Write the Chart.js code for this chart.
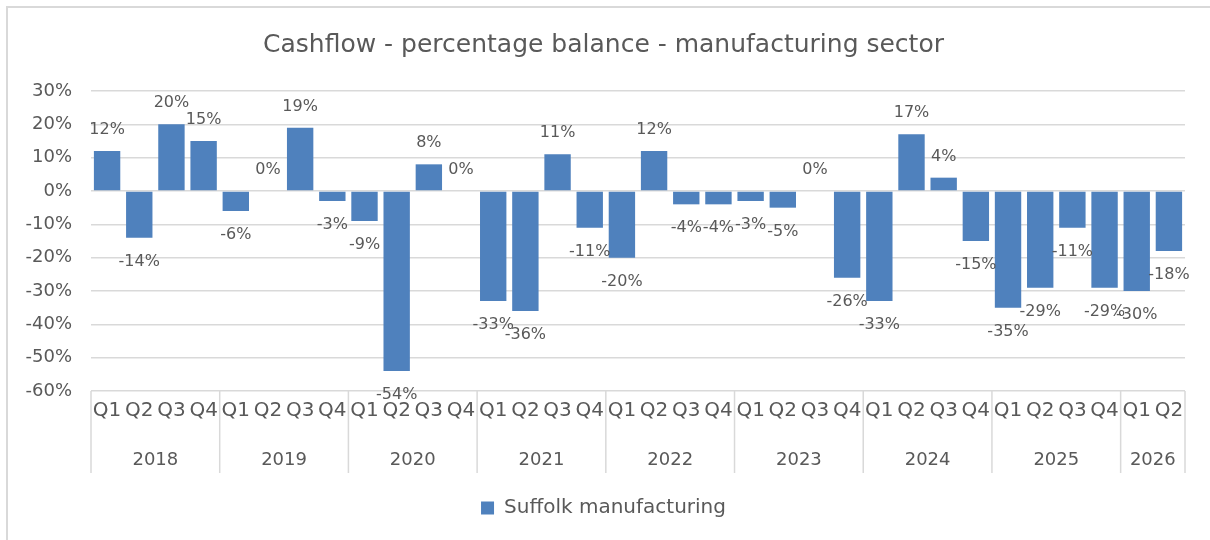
<!DOCTYPE html>
<html>
<head>
<meta charset="utf-8">
<script src="https://cdn.jsdelivr.net/npm/chart.js@4"></script>
<style>
  html, body { margin: 0; padding: 0; background: #fff; }
  #wrap { position: relative; width: 1210px; height: 540px; overflow: hidden; }
  #frame { position: absolute; left: 6px; top: 6px; width: 1300px; height: 600px;
           border-left: 2px solid #d9d9d9; border-top: 2px solid #d9d9d9; box-sizing: border-box; }
  #chart { position: absolute; left: 0; top: 0; }
</style>
</head>
<body>
<div id="wrap">
  <div id="frame"></div>
  <canvas id="chart" width="1210" height="540"></canvas>
</div>
<script>
// quarter tick labels, 2018 Q1 .. 2026 Q2
const quarters = [
    'Q1', 'Q2', 'Q3', 'Q4', 'Q1', 'Q2', 'Q3', 'Q4', 'Q1', 'Q2', 'Q3', 'Q4',
    'Q1', 'Q2', 'Q3', 'Q4', 'Q1', 'Q2', 'Q3', 'Q4', 'Q1', 'Q2', 'Q3', 'Q4',
    'Q1', 'Q2', 'Q3', 'Q4', 'Q1', 'Q2', 'Q3', 'Q4', 'Q1', 'Q2'
];
const years = ['2018', '2019', '2020', '2021', '2022', '2023', '2024', '2025', '2026'];
const quartersPerYear = [4, 4, 4, 4, 4, 4, 4, 4, 2];

// percentage balance
const suffolkManufacturing = [
    12, -14, 20, 15,
    -6, 0, 19, -3,
    -9, -54, 8, 0,
    -33, -36, 11, -11,
    -20, 12, -4, -4,
    -3, -5, 0, -26,
    -33, 17, 4, -15,
    -35, -29, -11, -29,
    -30, -18
];

const FONT = 'DejaVu Sans';
const TEXT = '#595959';
const GRID = '#d9d9d9';

const barLabels = {
    id: 'barLabels',
    afterDatasetsDraw(chart) {
        const ctx = chart.ctx;
        const meta = chart.getDatasetMeta(0);
        const values = chart.data.datasets[0].data;
        ctx.save();
        ctx.font = '16px "' + FONT + '"';
        ctx.fillStyle = TEXT;
        ctx.textAlign = 'center';
        ctx.textBaseline = 'middle';
        meta.data.forEach((bar, i) => {
            const v = values[i];
            const y = v >= 0 ? bar.y - 21 : bar.y + 24;
            ctx.fillText(v + '%', bar.x, y);
        });
        ctx.restore();
    }
};

const yearRow = {
    id: 'yearRow',
    afterDraw(chart) {
        const ctx = chart.ctx;
        const xs = chart.scales.x;
        const area = chart.chartArea;
        const step = area.width / quarters.length;
        ctx.save();
        ctx.strokeStyle = GRID;
        ctx.lineWidth = 1.5;
        ctx.fillStyle = TEXT;
        ctx.font = '18px "' + FONT + '"';
        ctx.textAlign = 'center';
        ctx.textBaseline = 'middle';
        let start = 0;
        const edge = i => xs.getPixelForValue(i) - step / 2;
        quartersPerYear.forEach((n, k) => {
            const x0 = edge(start);
            const x1 = edge(start + n);
            ctx.beginPath();
            ctx.moveTo(x0, area.bottom);
            ctx.lineTo(x0, area.bottom + 82);
            ctx.stroke();
            ctx.fillText(years[k], (x0 + x1) / 2, area.bottom + 69);
            start += n;
        });
        const xe = edge(start);
        ctx.beginPath();
        ctx.moveTo(xe, area.bottom);
        ctx.lineTo(xe, area.bottom + 82);
        ctx.stroke();
        ctx.restore();
    }
};

new Chart(document.getElementById('chart'), {
    type: 'bar',
    data: {
        labels: quarters,
        datasets: [{
            label: 'Suffolk manufacturing',
            data: suffolkManufacturing,
            backgroundColor: '#4f81bd',
            borderWidth: 0,
            barPercentage: 0.82,
            categoryPercentage: 1
        }]
    },
    options: {
        responsive: false,
        animation: false,
        layout: { padding: { left: 22, right: 25, top: 0, bottom: 12 } },
        plugins: {
            title: {
                display: true,
                text: 'Cashflow - percentage balance - manufacturing sector',
                color: TEXT,
                font: { family: FONT, size: 25, weight: 'normal' },
                padding: { top: 30, bottom: 31 }
            },
            legend: {
                position: 'bottom',
                labels: {
                    color: TEXT,
                    font: { family: FONT, size: 20 },
                    boxWidth: 13,
                    boxHeight: 13
                }
            },
            tooltip: { enabled: false }
        },
        scales: {
            x: {
                grid: { display: false },
                border: { display: false },
                ticks: {
                    color: TEXT,
                    font: { family: FONT, size: 20 },
                    autoSkip: false,
                    maxRotation: 0,
                    padding: 0
                },
                afterFit: s => { s.height = 97; }
            },
            y: {
                min: -60,
                max: 30,
                grid: { color: GRID, lineWidth: 1.5, drawTicks: false },
                border: { display: false },
                ticks: {
                    stepSize: 10,
                    color: TEXT,
                    font: { family: FONT, size: 18 },
                    padding: 19,
                    callback: v => v + '%'
                },
                afterFit: s => { s.width = 69; }
            }
        }
    },
    plugins: [barLabels, yearRow]
});
</script>
</body>
</html>
